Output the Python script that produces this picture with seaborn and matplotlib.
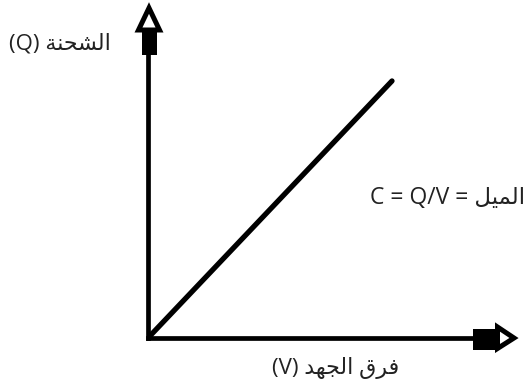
import matplotlib
matplotlib.use("Agg")
import matplotlib.pyplot as plt
from matplotlib.patches import Polygon, Rectangle
from matplotlib.transforms import IdentityTransform
import seaborn as sns

# ---- data (conceptual Q-V line: slope = C) ----
voltage = [0, 10]
charge = [0, 10.5]

# ---- texts (logical Arabic order) ----
y_word = "الشحنة"
y_sym = "(Q)"
slope_word = "الميل"
slope_expr = "C = Q/V ="
x_words = "فرق الجهد"
x_sym = "(V)"

# minimal Arabic shaping (presentation forms) for the letters used
FORMS = {
    "ا": ("\uFE8D", "\uFE8E"),
    "ة": ("\uFE93", "\uFE94"),
    "ر": ("\uFEAD", "\uFEAE"),
    "د": ("\uFEA9", "\uFEAA"),
    "ل": ("\uFEDD", "\uFEDE", "\uFEDF", "\uFEE0"),
    "ش": ("\uFEB5", "\uFEB6", "\uFEB7", "\uFEB8"),
    "ح": ("\uFEA1", "\uFEA2", "\uFEA3", "\uFEA4"),
    "ن": ("\uFEE5", "\uFEE6", "\uFEE7", "\uFEE8"),
    "م": ("\uFEE1", "\uFEE2", "\uFEE3", "\uFEE4"),
    "ي": ("\uFEF1", "\uFEF2", "\uFEF3", "\uFEF4"),
    "ف": ("\uFED1", "\uFED2", "\uFED3", "\uFED4"),
    "ق": ("\uFED5", "\uFED6", "\uFED7", "\uFED8"),
    "ج": ("\uFE9D", "\uFE9E", "\uFE9F", "\uFEA0"),
    "ه": ("\uFEE9", "\uFEEA", "\uFEEB", "\uFEEC"),
}


def shape_word(w):
    out = []
    for i, c in enumerate(w):
        f = FORMS[c]
        prev = w[i - 1] if i > 0 else None
        nxt = w[i + 1] if i + 1 < len(w) else None
        jp = prev is not None and len(FORMS[prev]) == 4
        jn = nxt is not None and len(f) == 4
        if jp and jn:
            out.append(f[3])
        elif jp:
            out.append(f[1])
        elif jn:
            out.append(f[2])
        else:
            out.append(f[0])
    return "".join(out)[::-1]


def rtl(text):
    return " ".join(shape_word(w) for w in reversed(text.split(" ")))


y_label = y_sym + " " + rtl(y_word)
slope_label = slope_expr + " " + rtl(slope_word)
x_label = x_sym + " " + rtl(x_words)

# ---- figure ----
sns.set_style("white")
plt.rcParams["font.family"] = ["Open Sans", "DejaVu Sans"]

W, H = 529, 388
fig = plt.figure(figsize=(W / 100, H / 100), dpi=100)
ox, oy = 148, 50          # origin in display px
tipx, tipy = 517, 384     # arrow tips in display px
ax = fig.add_axes([ox / W, oy / H, (tipx - ox) / W, (tipy - oy) / H])

sns.lineplot(x=voltage, y=charge, ax=ax, color="black", linewidth=3.8,
             solid_capstyle="round")

ppx = 24.4   # px per data unit (x)
ppy = 24.48  # px per data unit (y)
ax.set_xlim(0, (tipx - ox) / ppx)
ax.set_ylim(0, (tipy - oy) / ppy)
ax.set_xticks([])
ax.set_yticks([])
for s in ("top", "right"):
    ax.spines[s].set_visible(False)
for s in ("left", "bottom"):
    ax.spines[s].set_linewidth(3.4)
    ax.spines[s].set_color("black")
    ax.spines[s].set_capstyle("projecting")
ax.spines["left"].set_bounds(0, (345 - oy) / ppy)
ax.spines["bottom"].set_bounds(0, (480 - ox) / ppx)

idt = IdentityTransform()
# y-axis arrowhead
fig.add_artist(Rectangle((141.5, 333), 15, 27, facecolor="black",
                         edgecolor="none", transform=idt, zorder=5))
fig.add_artist(Polygon([(138.5, 358), (159.5, 358), (149, 380)], closed=True,
                       facecolor="white", edgecolor="black", linewidth=3.6,
                       joinstyle="miter", transform=idt, zorder=6))
# x-axis arrowhead
fig.add_artist(Rectangle((473, 38), 24, 21, facecolor="black",
                         edgecolor="none", transform=idt, zorder=5))
fig.add_artist(Polygon([(497.5, 39.5), (497.5, 61), (514, 50)], closed=True,
                       facecolor="white", edgecolor="black", linewidth=3.6,
                       joinstyle="miter", transform=idt, zorder=6))

tc = "#222222"
fig.text(60 / W, 1 - 44 / H, y_label, ha="center", va="center", fontsize=16, color=tc)
fig.text(448 / W, 1 - 198 / H, slope_label, ha="center", va="center", fontsize=16.5, color=tc)
fig.text(336 / W, 1 - 368 / H, x_label, ha="center", va="center", fontsize=16, color=tc)

fig.savefig("out.png", dpi=100)
